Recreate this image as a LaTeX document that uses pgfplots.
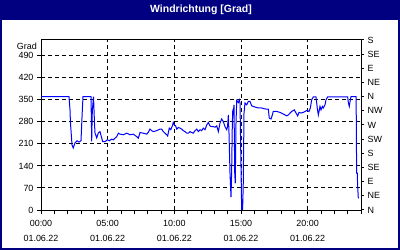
\documentclass[border=0pt]{standalone}
\usepackage{pgfplots}
\pgfplotsset{compat=1.18}
\usepackage{fontspec}
\setmainfont{Liberation Sans}
\definecolor{navy}{RGB}{0,0,128}
\definecolor{lineblue}{RGB}{0,0,255}
\begin{document}
\begin{tikzpicture}[x=1bp,y=1bp]
\useasboundingbox (0,0) rectangle (400,250);
\fill[white] (0,0) rectangle (400,250);
\fill[navy] (0,229.5) rectangle (400,250);
\draw[navy, line width=2bp] (1,1) rectangle (399,249);
\node[text=white, font=\bfseries\fontsize{10.5}{12}\selectfont] at (201,240) {Windrichtung [Grad]};
\begin{axis}[
  at={(41bp,40bp)}, anchor=south west, scale only axis,
  width=320bp, height=170bp,
  xmin=0, xmax=24, ymin=0, ymax=540,
  clip mode=individual,
  axis line style={line width=1bp},
  xtick={0,5,10,15,20},
  xticklabels={{00:00\\01.06.22},{05:00\\01.06.22},{10:00\\01.06.22},{15:00\\01.06.22},{20:00\\01.06.22}},
  minor xtick={1,...,24},
  ytick={0,70,...,490},
  yticklabels={0,70,140,210,280,350,420,490},
  xtick pos=bottom, ytick pos=left,
  tick align=outside,
  major tick length=4bp, minor tick length=4bp,
  tick style={black, line width=1bp},
  grid=major,
  major grid style={black, line width=1bp, dash pattern=on 4bp off 3bp},
  ticklabel style={font=\fontsize{9}{15}\selectfont},
  xticklabel style={align=center, yshift=-3bp},
]
\addplot[lineblue, line width=1bp] table {
x y
0 360
2.10 360
2.175 318
2.21 277
2.325 207
2.42 197
2.475 204
2.55 213
2.70 220
2.85 216
3.00 220
3.10 318
3.15 360
3.75 360
3.79 255
3.80 218
3.85 318
3.90 340
3.94 360
3.975 318
4.01 277
4.05 245
4.18 229
4.30 245
4.425 249
4.55 229
4.63 217
4.80 217
4.97 223
5.12 220
5.30 225
5.42 223
5.55 228
5.68 233
5.80 244
5.925 241
6.17 239
6.43 244
6.675 239
6.92 241
7.18 233
7.30 228
7.425 246
7.67 244
7.93 241
8.05 247
8.175 257
8.30 252
8.42 249
8.68 252
8.925 257
9.05 257
9.17 249
9.30 244
9.43 239
9.50 235
9.62 260
9.73 255
9.85 267
9.92 278
10.0 270
10.1 267
10.18 257
10.30 262
10.425 260
10.55 257
10.67 252
10.80 249
10.93 244
11.05 244
11.175 249
11.30 246
11.42 244
11.55 252
11.68 257
11.80 249
11.925 255
12.05 252
12.17 260
12.30 255
12.43 270
12.55 278
12.675 267
12.80 265
12.92 265
13.05 263
13.18 267
13.30 249
13.425 276
13.55 289
13.67 281
13.80 265
13.93 255
13.99 265
14.05 302
14.10 244
14.175 117
14.25 41
14.30 127
14.35 276
14.38 313
14.42 308
14.475 334
14.53 117
14.57 85
14.625 276
14.68 348
14.80 341
14.87 350
14.925 340
14.98 191
15.05 0
15.12 0
15.17 85
15.225 308
15.30 340
15.43 334
15.55 345
15.675 345
15.80 331
15.92 329
16.05 327
16.30 324
16.55 324
16.80 321
17.05 320
17.12 292
17.25 289
17.35 302
17.42 313
17.68 313
17.925 310
18.17 305
18.43 299
18.55 302
18.80 313
19.0 318
19.10 310
19.25 299
19.35 310
19.50 308
19.67 310
19.93 316
20.10 313
20.20 324
20.30 350
20.42 359
20.625 359
20.72 324
20.80 302
20.925 329
21.0 318
21.10 329
21.17 324
21.30 334
21.375 350
21.50 359
23.0 359
23.05 341
23.12 329
23.20 350
23.25 360
23.625 360
23.65 281
23.67 117
23.72 117
23.75 74
23.80 37
};
\node[anchor=east, font=\fontsize{9}{11}\selectfont, inner sep=0pt] at (rel axis cs:0,1) [xshift=-4bp, yshift=-6bp] {Grad};
\end{axis}
\begin{axis}[
  at={(41bp,40bp)}, anchor=south west, scale only axis,
  width=320bp, height=170bp,
  xmin=0, xmax=24, ymin=0, ymax=540,
  axis x line=none, axis y line*=right,
  axis line style={line width=1bp, -},
  ytick={0,45,...,540},
  yticklabels={N,NE,E,SE,S,SW,W,NW,N,NE,E,SE,S},
  tick align=outside,
  major tick length=3bp,
  tick style={black, line width=1bp},
  ticklabel style={font=\fontsize{9}{11}\selectfont},
]
\end{axis}
\end{tikzpicture}
\end{document}
